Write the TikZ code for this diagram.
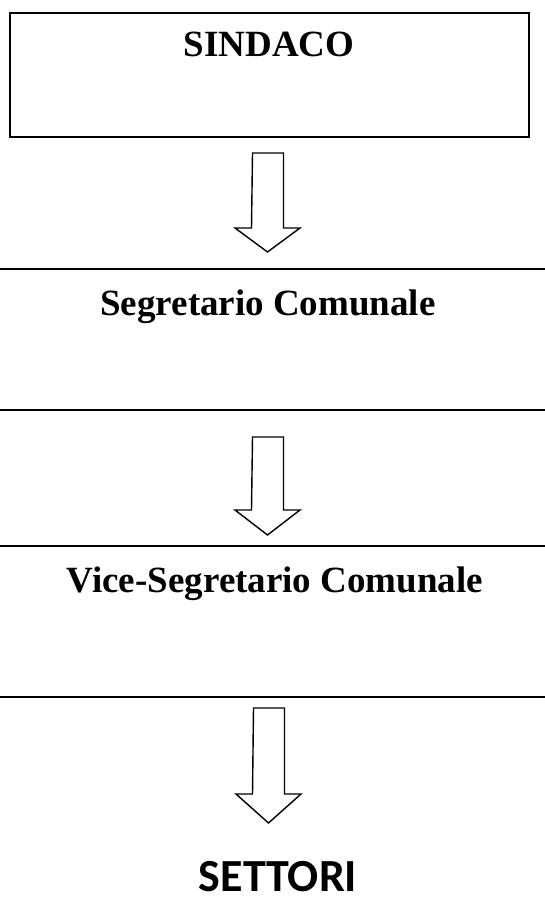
\documentclass[tikz,border=0pt]{standalone}
\usepackage{fontspec}
\setmainfont{Liberation Serif}
\newfontfamily\calibri{Carlito}
\usetikzlibrary{positioning}
\tikzstyle{titolo} = [inner sep=0pt, anchor=base, font=\bfseries\fontsize{18.5}{20}\selectfont]
\tikzstyle{linea} = [line width=0.8pt]
\tikzstyle{freccia} = [line width=0.7pt, line join=miter]
\newcommand{\giu}[3]{\draw[freccia] (#1) ++(-15.5,0) -- ++(31,0) -- ++(0,#2) -- ++(16.5,0) -- ++(-32.5,#3) -- ++(-32.5,-#3) -- ++(16.5,0) -- cycle;}

\begin{document}
\begin{tikzpicture}[x=0.5pt, y=-0.5pt]
\useasboundingbox (0,0) rectangle (545,899);

\node[draw, line width=1pt, minimum width=259.5pt, minimum height=62pt, inner sep=0pt] (sindaco) at (269.5,75) {};
\node[titolo] (sindacolab) at (269,57) {SINDACO};

\draw[linea] (0,269) coordinate (a_1) -- (545,269) coordinate (b_1);
\draw[linea] (0,410) coordinate (a_2) -- (545,410) coordinate (b_2);
\draw[linea] (0,546) coordinate (a_3) -- (545,546) coordinate (b_3);
\draw[linea] (0,697) coordinate (a_4) -- (545,697) coordinate (b_4);

\node[titolo] (segretario) at (268,315) {Segretario Comunale};
\node[titolo] (vice) at (275,592) {Vice-Segretario Comunale};
\node[inner sep=0pt, anchor=base, font=\calibri\bfseries\fontsize{23}{25}\selectfont] (settori) at (278,891) {SETTORI};

\coordinate (f_1) at (268,153);
\coordinate (f_2) at (268,437);
\coordinate (f_3) at (269,708);

\giu{f_1}{75}{24}
\giu{f_2}{73}{25}
\giu{f_3}{86}{29}

\end{tikzpicture}
\end{document}
